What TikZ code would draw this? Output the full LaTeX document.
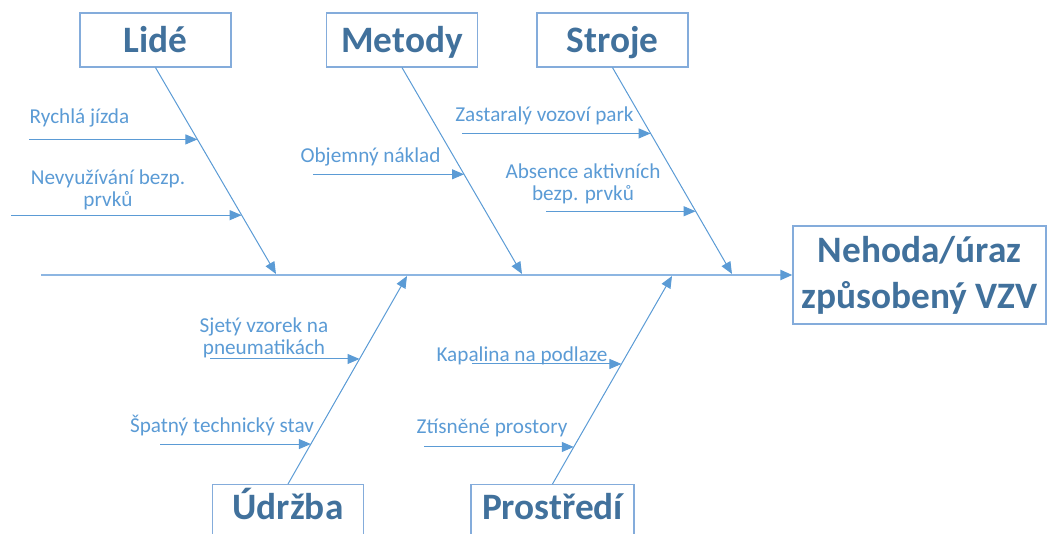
\documentclass[tikz,border=0pt]{standalone}
\usepackage{fontspec}
\setmainfont{Carlito}
\usetikzlibrary{arrows.meta,calc}
\definecolor{bone}{HTML}{5B9BD5}
\definecolor{spine}{HTML}{8DB6E2}
\definecolor{frame}{HTML}{84ACDB}
\definecolor{heading}{HTML}{41719C}

\begin{document}
\begin{tikzpicture}[x=1pt, y=-1pt, >={Triangle[length=12pt, width=10pt]},
	framebox/.style={draw=frame, line width=1.2pt, inner sep=0pt, text=heading},
	headbox/.style={framebox, minimum width=151pt, minimum height=54pt, text height=30pt, text depth=4pt, font=\fontsize{37.3}{40}\selectfont\bfseries},
	cause/.style={text=bone, align=center, inner sep=0pt, anchor=base, font=\fontsize{21.2}{22.5}\selectfont}]
	\useasboundingbox (0,0) rectangle (1049,534);
	\clip (0,0) rectangle (1049,534);

	% \cause#name#bonetop#bonebottom#pos#startx
	\def\cause#1#2#3#4#5{
		\coordinate (#1) at ($(#2)!#4!(#3)$);
		\coordinate (#1start) at (#5,0 |- #1);
		\draw[->, draw=bone, line width=1pt] (#1start) -- (#1);
	}

	% heads
	\foreach \name/\x/\txt in {lide/155.5/Lidé, metody/402/Metody, stroje/612.5/Stroje}
		\node[headbox] (\name) at (\x,40) {\txt};
	\node[headbox, anchor=north, text depth=14pt] (udrzba) at (288,484) {Údržba};
	\node[headbox, anchor=north, text depth=14pt, minimum width=163pt] (prostredi) at (552.5,484) {Prostředí};
	\node[framebox, minimum width=253pt, minimum height=98pt, align=center, font=\fontsize{37.3}{46}\selectfont\bfseries] (nehoda) at (919.5,275) {Nehoda/úraz\\způsobený VZV};

	% spine and bones
	\coordinate (spinestart) at (41,275);
	\draw[-{Triangle[length=12pt, width=10pt, color=bone]}, draw=spine, line width=2pt] (spinestart) -- (nehoda.west);
	\foreach \name/\x in {lide/276, metody/522, stroje/732} {
		\coordinate (\name-end) at (\x,274);
		\draw[->, draw=bone, line width=1pt] (\name.south) -- (\name-end);
	}
	\foreach \name/\x in {udrzba/407, prostredi/672} {
		\coordinate (\name-end) at (\x,276);
		\draw[->, draw=bone, line width=1pt] (\name.north) -- (\name-end);
	}

	% causes
	\cause{rychla}{lide.south}{lide-end}{.348}{29}
	\cause{nevyuzivani}{lide.south}{lide-end}{.715}{11}
	\cause{objemny}{metody.south}{metody-end}{.517}{313}
	\cause{zastaraly}{stroje.south}{stroje-end}{.319}{462}
	\cause{absence}{stroje.south}{stroje-end}{.696}{546}
	\cause{sjety}{udrzba.north}{udrzba-end}{.601}{210}
	\cause{spatny}{udrzba.north}{udrzba-end}{.192}{160}
	\cause{kapalina}{prostredi.north}{prostredi-end}{.577}{472}
	\cause{ztisnene}{prostredi.north}{prostredi-end}{.178}{424}

	\node[cause] (rychlalabel) at (79.5,124) {Rychlá jízda};
	\node[cause] (nevyuzivanilabel) at (108,207) {Nevyužívání bezp.\\prvků};
	\node[cause] (objemnylabel) at (370.5,163) {Objemný náklad};
	\node[cause] (zastaralylabel) at (544.5,122) {Zastaralý vozoví park};
	\node[cause] (absencelabel) at (583,201) {Absence aktivních\\bezp. prvků};
	\node[cause] (sjetylabel) at (264,355) {Sjetý vzorek na\\pneumatikách};
	\node[cause] (spatnylabel) at (222,432) {Špatný technický stav};
	\node[cause] (kapalinalabel) at (522,362) {Kapalina na podlaze};
	\node[cause] (ztisnenelabel) at (492,433) {Ztísněné prostory};
\end{tikzpicture}
\end{document}
